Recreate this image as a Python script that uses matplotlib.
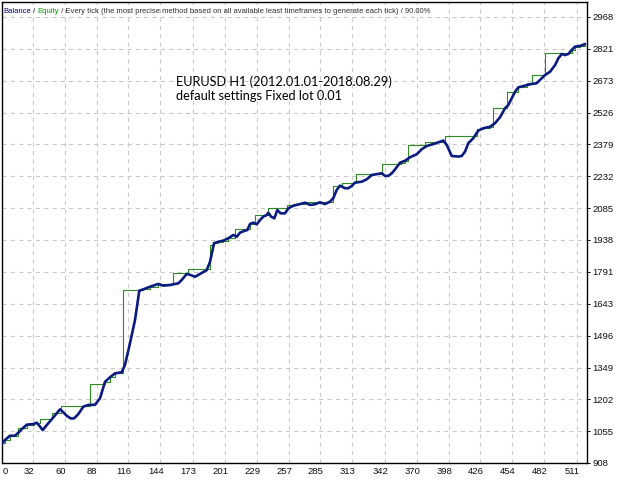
import matplotlib
matplotlib.use('Agg')
import matplotlib.pyplot as plt
from matplotlib.transforms import ScaledTranslation
from matplotlib import font_manager as fm

plt.rcParams['lines.scale_dashes'] = False

# ---------------- data ----------------
equity_x = [4.7, 7.3, 11.7, 16.1, 19.1, 22.0, 26.5, 32.3, 35.3, 38.2, 40.5, 44.1, 48.5, 52.9,
            55.8, 58.7, 61.7, 65.2, 68.1, 71.9, 76.3, 80.7, 86.6, 91.0, 95.4, 99.8, 104.2,
            110.1, 113.0, 117.4, 121.8, 125.6, 129.1, 135.0, 142.3, 146.7, 152.6, 160.0,
            162.9, 167.3, 170.9, 174.7, 179.1, 185.0, 187.9, 191.4, 195.2, 199.6, 204.0,
            208.4, 211.4, 214.3, 218.7, 220.7, 223.1, 226.0, 229.0, 231.9, 234.8, 237.8,
            239.2, 241.6, 244.5, 247.1, 250.1, 253.9, 256.8, 261.2, 267.1, 271.5, 275.9,
            280.3, 284.7, 289.1, 293.5, 296.4, 299.4, 302.3, 306.7, 309.6, 312.6, 315.5,
            321.4, 325.8, 330.2, 336.1, 339.1, 342.0, 344.9, 347.9, 350.8, 355.2, 359.6,
            364.0, 369.9, 374.3, 378.7, 384.5, 388.9, 393.3, 396.3, 400.7, 406.5, 409.5,
            412.4, 415.3, 419.7, 424.1, 428.5, 434.4, 438.8, 443.2, 447.6, 450.6, 453.5,
            456.5, 459.4, 463.8, 469.7, 475.5, 480.0, 482.9, 487.3, 491.7, 494.6, 497.6,
            500.5, 503.4, 506.4, 509.3, 513.7, 518.1]
equity_y = [999, 1014, 1034, 1034, 1048, 1064, 1085, 1088, 1094, 1076, 1060, 1083, 1110, 1138,
            1156, 1142, 1126, 1114, 1114, 1134, 1168, 1176, 1177, 1207, 1283, 1304, 1322,
            1327, 1361, 1461, 1568, 1704, 1710, 1722, 1735, 1727, 1730, 1738,
            1753, 1781, 1776, 1768, 1781, 1799, 1838, 1923, 1930, 1935, 1946,
            1961, 1953, 1972, 1981, 1984, 2012, 2018, 2010, 2030, 2046, 2053,
            2064, 2046, 2038, 2076, 2061, 2061, 2084, 2096, 2104, 2110, 2100,
            2103, 2112, 2104, 2115, 2131, 2169, 2189, 2177, 2177, 2187, 2203,
            2207, 2218, 2238, 2243, 2246, 2234, 2234, 2246, 2264, 2295, 2304,
            2320, 2334, 2357, 2372, 2381, 2389, 2397, 2377, 2326, 2323, 2326,
            2346, 2385, 2408, 2443, 2454, 2461, 2477, 2505, 2546, 2562, 2592,
            2623, 2643, 2649, 2657, 2662, 2685, 2700, 2715, 2746, 2777, 2797,
            2792, 2797, 2816, 2831, 2834, 2843]

balance_x = [4.7, 7.3, 11.7, 18.8, 26.7, 32.9, 38.2, 48.7, 56.7, 82.2, 95.4, 99.8, 104.2,
             111.3, 128.9, 135.0, 142.0, 155.3, 168.5, 187.9, 191.4, 194.9, 199.3, 203.7,
             209.9, 223.1, 227.5, 238.9, 255.7, 260.9, 271.5, 296.2, 303.8, 316.4, 339.1,
             356.1, 359.6, 362.0, 377.2, 394.8, 423.0, 428.3, 434.4, 437.3, 449.1, 459.1,
             466.7, 471.1, 482.8, 506.4, 509.3, 513.7, 518.1]
balance_y = [1000, 1014, 1034, 1068, 1085, 1094, 1110, 1139, 1173, 1273, 1283, 1304, 1322,
             1707, 1710, 1722, 1735, 1784, 1804, 1915, 1923, 1930, 1935, 1946,
             1987, 2012, 2053, 2084, 2100, 2103, 2115, 2187, 2200, 2243, 2288,
             2295, 2304, 2377, 2389, 2418, 2449, 2454, 2461, 2546, 2620, 2643,
             2665, 2700, 2803, 2816, 2831, 2834, 2843]

x_labels = ['0', '32', '60', '88', '116', '144', '173', '201', '229', '257', '285', '313',
            '342', '370', '398', '426', '454', '482', '511']
x_grid = [32, 60, 88, 116, 144, 173, 201, 229, 257, 285, 313, 342, 370, 398, 426, 454,
          482, 511]
y_ticks = [908, 1055, 1202, 1349, 1496, 1643, 1791, 1938, 2085, 2232, 2379, 2526, 2673,
           2821, 2968]
x_range = (4.7, 519.8)
y_range = (908, 3037)

title_parts = [('Balance', '#000080'), (' / ', '#303030'), ('Equity', '#00A000'),
               (' / Every tick (the most precise method based on all available least '
                'timeframes to generate each tick) / 90.00%', '#303030')]
note = 'EURUSD H1 (2012.01.01-2018.08.29)\ndefault settings Fixed lot 0.01'


def pick_font(cands):
    for c in cands:
        try:
            fm.findfont(fm.FontProperties(family=c), fallback_to_default=False)
            return c
        except Exception:
            pass
    return 'DejaVu Sans'


head_font = pick_font(['Liberation Sans Narrow', 'Liberation Sans'])

# ---------------- figure ----------------
fig = plt.figure(figsize=(6.4, 4.8), dpi=100)
fig.patch.set_facecolor('white')
ax = fig.add_axes([2 / 640, 17 / 480, 585 / 640, 461 / 480])
ax.set_xlim(*x_range)
ax.set_ylim(*y_range)

ax.step(balance_x, balance_y, where='post', color='#2E8B22', lw=0.8, zorder=3)
ax.plot(equity_x, equity_y, color='#0B1A80', lw=1.9, solid_joinstyle='round',
        solid_capstyle='round', zorder=4)

# ticks and grid
ax.xaxis.remove_overlapping_locs = False
ax.set_xticks([x_range[0]] + x_grid, x_labels)
ax.set_xticks(x_grid, minor=True)
ax.set_yticks(y_ticks)
ax.grid(False)
ax.grid(True, which='minor', axis='x', color='#C8C8C8', lw=0.75, ls=(0, (3, 3)))
ax.grid(True, which='major', axis='y', color='#C8C8C8', lw=0.75, ls=(0, (3, 3)))
ax.set_axisbelow(True)

ax.tick_params(axis='x', which='both', length=0, pad=3.2, labelsize=6.8,
               labelcolor='#101010')
for i, lbl in enumerate(ax.get_xticklabels()):
    lbl.set_fontfamily('Liberation Sans')
    if i == 0:
        lbl.set_ha('left')
        lbl.set_transform(lbl.get_transform() + ScaledTranslation(1 / 100, 0, fig.dpi_scale_trans))
    else:
        lbl.set_transform(lbl.get_transform() + ScaledTranslation(-4.5 / 100, 0, fig.dpi_scale_trans))

ax.yaxis.tick_right()
ax.tick_params(axis='y', which='major', direction='out', length=2.5, width=0.7, pad=1.5,
               labelsize=6.8, labelcolor='#101010')
for lbl in ax.get_yticklabels():
    lbl.set_fontfamily('Liberation Sans')

for sp in ax.spines.values():
    sp.set_color('black')
    sp.set_linewidth(1.0)

# header text, multi-coloured
fs = 6.8
prev = None
texts = []
for s, c in title_parts:
    if prev is None:
        t = fig.text(3.5 / 640, 1 - 15 / 480, s, color=c, fontsize=fs,
                     family=head_font, ha='left', va='bottom')
    else:
        t = ax.annotate(s, xy=(1, 0), xycoords=prev, color=c, fontsize=fs,
                        family=head_font, ha='left', va='bottom')
    texts.append(t)
    prev = t
fig.canvas.draw()
r = fig.canvas.get_renderer()
x0 = texts[0].get_window_extent(r).x0
x1 = texts[-1].get_window_extent(r).x1
scale = 430.0 / (x1 - x0)
for t in texts:
    t.set_fontsize(fs * scale)

fig.text(176 / 640, 1 - 75 / 480, note, fontsize=9.2, family='Lato', color='black',
         ha='left', va='top', linespacing=1.2)

fig.savefig('out.png', dpi=100, facecolor='white')
